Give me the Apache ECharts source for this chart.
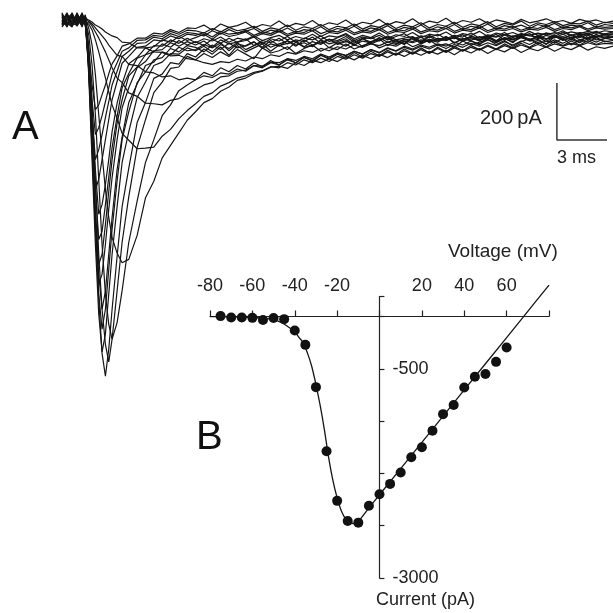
<!DOCTYPE html>
<html>
<head>
<meta charset="utf-8">
<script src="https://cdn.jsdelivr.net/npm/echarts/dist/echarts.min.js"></script>
<style>
  html, body { margin: 0; padding: 0; background: #fff; }
  #chart { width: 613px; height: 613px; }
</style>
</head>
<body>
<div id="chart"></div>
<script>
// ---- panel A: current traces (time in ms, current in pA) ----
const timeMs = [0, 0.3, 0.6, 0.9, 1.2, 1.4,
  1.6, 1.8, 2.0, 2.2, 2.4, 2.6, 2.8, 3.0,
  3.3, 3.6, 4.0, 4.5, 5.0, 5.5, 6.0, 6.5, 7.0, 7.5,
  8, 8.5, 9, 9.5, 10, 10.5, 11, 11.5, 12, 12.5, 13, 13.5, 14, 14.5, 15, 15.5, 16, 16.5, 17, 17.5,
  18, 18.5, 19, 19.5, 20, 20.5, 21, 21.5, 22, 22.5, 23, 23.5, 24, 24.5, 25, 25.5, 26, 26.5, 27, 27.5,
  28, 28.5, 29, 29.5, 30, 30.5, 31, 31.5, 32, 32.5, 33]

const traceF1 = [10, -20, 25, -15, 5, -10,
  -140, -400, -700, -980, -1170, -1250, -1155, -1015,
  -830, -655, -520, -360, -290, -205, -190, -150, -155, -118,
  -130, -102, -120, -95, -124, -90, -112, -98, -84, -110,
  -88, -104, -78, -96, -90, -72, -98, -80, -92, -70,
  -94, -76, -66, -90, -74, -86, -62, -84, -70, -78,
  -58, -82, -66, -74, -88, -60, -76, -64, -80, -56,
  -74, -68, -86, -58, -72, -62, -78, -54, -70, -66, -60]
const traceF2 = [-15, 20, -5, 18, -22, 8,
  -88, -298, -560, -822, -1015, -1138, -1200, -1120,
  -950, -780, -620, -448, -350, -255, -218, -170, -165, -128,
  -140, -118, -132, -112, -128, -104, -120, -136, -98, -116,
  -108, -94, -118, -100, -88, -110, -96, -104, -84, -102,
  -90, -80, -98, -86, -92, -76, -94, -82, -70, -90,
  -84, -96, -74, -88, -78, -68, -86, -72, -92, -76,
  -66, -84, -74, -80, -64, -88, -70, -78, -62, -76, -72]
const traceF3 = [22, -10, -25, 12, -8, 15,
  -192, -490, -788, -1032, -1165, -1102, -962, -822,
  -655, -500, -392, -272, -218, -160, -148, -118, -120, -98,
  -108, -92, -112, -86, -100, -80, -104, -90, -78, -96,
  -84, -74, -92, -70, -88, -80, -68, -86, -76, -82,
  -64, -84, -72, -60, -78, -70, -66, -80, -58, -74,
  -68, -62, -76, -56, -70, -64, -74, -52, -68, -60,
  -72, -58, -66, -54, -70, -62, -56, -68, -50, -64, -58]
const traceF4 = [-5, 25, -18, -2, 20, -12,
  -175, -455, -735, -962, -1085, -1015, -875, -735,
  -565, -420, -322, -220, -182, -140, -132, -100, -112, -90,
  -96, -112, -88, -104, -82, -98, -90, -76, -100, -84,
  -92, -72, -88, -80, -94, -70, -84, -76, -66, -88,
  -74, -80, -62, -78, -70, -84, -60, -76, -68, -72,
  -58, -80, -66, -62, -74, -56, -72, -64, -70, -54,
  -68, -60, -76, -58, -66, -52, -70, -62, -56, -64, -60]
const traceF5 = [18, -22, 10, -20, 14, -4,
  -158, -420, -682, -892, -1015, -952, -822, -693,
  -525, -410, -290, -225, -160, -148, -112, -122, -96, -108,
  -104, -86, -98, -80, -108, -84, -92, -78, -96, -72,
  -90, -82, -74, -94, -76, -86, -68, -82, -72, -90,
  -66, -78, -70, -62, -84, -68, -76, -60, -80, -64,
  -72, -58, -74, -66, -70, -56, -78, -62, -68, -60,
  -72, -54, -66, -62, -58, -70, -52, -66, -60, -56, -62]
const traceF6 = [-20, 5, 22, -12, -6, 18,
  -175, -438, -718, -928, -892, -788, -665, -553,
  -420, -308, -238, -168, -146, -108, -104, -80, -92, -76,
  -88, -74, -96, -70, -84, -78, -66, -90, -72, -80,
  -64, -84, -70, -76, -60, -82, -68, -72, -58, -78,
  -66, -62, -74, -56, -70, -64, -58, -76, -54, -68,
  -62, -66, -52, -72, -58, -64, -50, -70, -56, -60,
  -48, -66, -54, -62, -50, -64, -56, -46, -60, -52, -58]
const traceF7 = [8, 15, -20, 25, -15, 2,
  -158, -402, -665, -858, -822, -718, -602, -490,
  -362, -280, -196, -165, -122, -112, -84, -96, -72, -88,
  -76, -90, -68, -82, -64, -78, -72, -60, -84, -66,
  -74, -58, -78, -64, -70, -56, -76, -62, -52, -72,
  -60, -66, -54, -70, -58, -48, -68, -56, -62, -50,
  -66, -54, -60, -46, -64, -52, -58, -44, -62, -50,
  -56, -60, -46, -58, -42, -56, -50, -54, -44, -52, -48]
const traceF8 = [-25, 0, 18, -8, 22, -18,
  -140, -368, -595, -770, -742, -648, -553, -448,
  -338, -238, -188, -134, -122, -90, -92, -70, -82, -64,
  -80, -66, -74, -60, -78, -64, -70, -56, -72, -62,
  -54, -70, -58, -66, -50, -68, -56, -60, -48, -66,
  -54, -62, -46, -64, -52, -58, -44, -62, -50, -56,
  -42, -60, -48, -54, -40, -58, -46, -52, -44, -56,
  -40, -54, -46, -50, -38, -54, -44, -48, -40, -50, -42]
const traceF9 = [12, -14, -6, 20, -25, 10,
  -122, -332, -525, -682, -648, -578, -490, -392,
  -292, -224, -154, -132, -98, -94, -70, -78, -58, -72,
  -62, -50, -68, -46, -58, -52, -42, -60, -48, -54,
  -40, -56, -46, -50, -38, -58, -44, -48, -36, -52,
  -42, -46, -34, -50, -40, -44, -32, -48, -38, -42,
  -30, -46, -36, -40, -28, -44, -34, -38, -30, -42,
  -32, -36, -26, -40, -30, -34, -24, -38, -28, -32, -30]
const traceF10 = [-8, 22, -15, 5, 12, -20,
  -158, -385, -595, -560, -490, -420, -350, -280,
  -216, -152, -128, -96, -92, -70, -74, -56, -66, -50,
  -54, -44, -60, -40, -50, -46, -36, -54, -42, -48,
  -34, -50, -40, -44, -30, -48, -38, -42, -28, -46,
  -36, -40, -26, -44, -34, -38, -24, -42, -32, -36,
  -22, -40, -30, -34, -20, -38, -28, -32, -22, -36,
  -26, -30, -18, -34, -24, -28, -20, -32, -22, -26, -24]
const traceF11 = [20, -5, 12, -22, 8, -2,
  -140, -332, -490, -455, -402, -343, -287, -228,
  -180, -128, -110, -82, -80, -60, -66, -48, -58, -44,
  -48, -56, -38, -50, -34, -46, -40, -30, -48, -36,
  -42, -28, -44, -34, -38, -24, -42, -30, -36, -22,
  -40, -28, -34, -20, -38, -26, -32, -18, -36, -24,
  -30, -16, -34, -22, -28, -14, -32, -20, -26, -18,
  -30, -16, -24, -12, -28, -18, -22, -10, -26, -16, -20]
const traceF12 = [-12, 18, -22, 10, -4, 14,
  -122, -280, -402, -378, -336, -287, -238, -189,
  -150, -110, -98, -72, -70, -54, -58, -40, -50, -36,
  -38, -46, -30, -42, -26, -38, -32, -22, -40, -28,
  -34, -18, -36, -24, -30, -16, -34, -22, -28, -14,
  -32, -20, -26, -12, -30, -18, -24, -10, -28, -16,
  -22, -8, -26, -14, -20, -6, -24, -12, -18, -4,
  -22, -10, -16, -6, -20, -12, -14, -4, -18, -8, -12]
const traceF13 = [5, -25, 15, -10, 18, -8,
  -105, -228, -315, -298, -262, -228, -189, -154,
  -126, -92, -84, -64, -64, -46, -50, -34, -44, -28,
  -30, -18, -36, -14, -26, -20, -8, -28, -16, -22,
  -4, -24, -12, -18, -2, -22, -10, -16, 0, -20,
  -8, -14, 2, -18, -6, -12, 4, -16, -4, -10,
  6, -14, -2, -8, 4, -12, 0, -6, -14, 2,
  -10, -4, 4, -8, -2, -12, 2, -6, 0, -10, -4]
const traceS1 = [-18, 10, 5, -15, 25, -5,
  -52, -158, -332, -560, -788, -962, -1068, -1120,
  -1062, -950, -780, -636, -500, -420, -336, -298, -248, -228,
  -210, -184, -196, -168, -182, -160, -172, -150, -164, -142,
  -158, -136, -150, -130, -146, -124, -138, -120, -134, -114,
  -130, -110, -126, -106, -122, -102, -118, -98, -116, -96,
  -112, -92, -108, -90, -104, -88, -102, -84, -98, -82,
  -96, -78, -94, -76, -90, -74, -88, -72, -86, -74, -80]
const traceS2 = [15, -8, -20, 22, -12, 6,
  -28, -88, -192, -332, -472, -595, -693, -763,
  -818, -852, -840, -756, -624, -566, -484, -440, -396, -352,
  -322, -290, -276, -250, -235, -212, -204, -188, -180, -166,
  -162, -170, -150, -160, -142, -150, -136, -146, -128, -140,
  -124, -136, -120, -132, -116, -128, -112, -124, -110, -120,
  -106, -122, -104, -116, -100, -118, -102, -112, -96, -114,
  -100, -108, -94, -110, -96, -104, -90, -106, -94, -100, -92]
const traceS3 = [-2, 20, -12, -18, 10, -14,
  -14, -35, -70, -112, -158, -203, -252, -298,
  -345, -398, -422, -452, -450, -446, -408, -384, -346, -318,
  -294, -268, -256, -232, -220, -204, -196, -184, -178, -164,
  -168, -150, -158, -140, -150, -134, -146, -128, -138, -122,
  -134, -118, -128, -112, -124, -108, -120, -104, -118, -100,
  -114, -98, -110, -96, -106, -92, -104, -90, -100, -88,
  -98, -86, -96, -84, -92, -82, -90, -80, -88, -82, -84]
const traceS4 = [25, -15, 8, 2, -20, 12,
  -7, -21, -42, -63, -88, -112, -140, -168,
  -204, -220, -256, -268, -292, -294, -298, -282, -276, -258,
  -245, -228, -220, -200, -196, -180, -176, -160, -162, -148,
  -150, -136, -142, -128, -136, -120, -130, -116, -124, -110,
  -120, -104, -116, -100, -110, -96, -106, -92, -102, -88,
  -100, -86, -96, -82, -92, -80, -90, -76, -88, -74,
  -86, -72, -84, -70, -82, -68, -80, -66, -78, -64, -70]
const traceS5 = [-10, -18, 20, -5, 15, -22,
  -4, -14, -28, -42, -56, -70, -88, -102,
  -124, -128, -156, -160, -182, -186, -200, -196, -210, -204,
  -210, -196, -202, -186, -190, -172, -180, -160, -168, -150,
  -158, -140, -150, -132, -142, -124, -134, -116, -126, -110,
  -120, -104, -114, -98, -108, -92, -102, -88, -96, -84,
  -92, -78, -88, -74, -84, -70, -80, -66, -76, -62,
  -72, -60, -68, -56, -64, -54, -62, -50, -58, -48, -52]
const traceS6 = [6, 12, -14, 18, -10, 4,
  0, -7, -18, -24, -32, -42, -49, -56,
  -62, -78, -80, -98, -98, -112, -114, -126, -124, -136,
  -140, -150, -156, -146, -150, -138, -144, -130, -136, -122,
  -128, -114, -120, -108, -114, -100, -108, -94, -102, -88,
  -96, -84, -90, -78, -86, -74, -80, -70, -76, -66,
  -72, -62, -68, -58, -64, -56, -60, -52, -58, -48,
  -54, -46, -52, -44, -50, -42, -48, -40, -46, -38, -42]

const tracesA = [traceF1, traceF2, traceF3, traceF4, traceF5, traceF6, traceF7, traceF8, traceF9, traceF10,
  traceF11, traceF12, traceF13, traceS1, traceS2, traceS3, traceS4, traceS5, traceS6]

// scale bar: 3 ms x 200 pA
const scaleBar = [[29.64, -221], [29.64, -421], [32.64, -421]]

// ---- panel B: I-V relation ----
const voltage = [-75, -70, -65, -60, -55, -50, -45, -40, -35, -30, -25, -20, -15, -10, -5, 0, 5, 10, 15, 20, 25, 30, 35, 40, 45, 50, 55, 60]
const current = [5, -10, -10, -15, -40, -17, -30, -160, -325, -810, -1545, -2115, -2345, -2365, -2170, -2040, -1920, -1790, -1615, -1500,
  -1310, -1120, -1015, -815, -690, -660, -520, -355]

const fitVoltage = [-80, -75, -70, -65, -60, -55, -50, -47, -45, -43, -40, -38, -36, -34, -32, -30, -28, -26, -24, -22, -20, -18, -16, -14, -12, -10, -5, 0, 20, 40, 60, 68, 80]
const fitCurrent = [0, 0, -2, -5, -10, -18, -35, -60, -85, -120, -175, -240, -300, -420, -570, -780, -1020, -1300, -1620, -1880, -2080, -2230, -2320, -2365, -2375, -2350, -2195, -2045, -1444, -842, -241, 0, 361]

const xTickLabels = { '-80': '-80', '-60': '-60', '-40': '-40', '-20': '-20', '20': '20', '40': '40', '60': '60' }
const yTickLabels = { '-600': '-500', '-3000': '-3000' }

const font = 'Liberation Sans, Arial, sans-serif'
const ink = '#151515'

const chart = echarts.init(document.getElementById('chart'), null, { renderer: 'canvas' })

const traceSeries = tracesA.map((tr) => ({
  type: 'line',
  xAxisIndex: 0,
  yAxisIndex: 0,
  symbol: 'none',
  lineStyle: { color: ink, width: 1.2 },
  data: timeMs.map((t, i) => [t, tr[i]]),
}))

const option = {
  animation: false,
  backgroundColor: '#fff',
  grid: [
    { left: 62, top: 0, width: 551, height: 399 },
    { left: 210, top: 296.5, width: 339, height: 281.5 },
  ],
  xAxis: [
    { type: 'value', gridIndex: 0, min: 0, max: 33, show: false },
    {
      type: 'value',
      gridIndex: 1,
      min: -80,
      max: 80,
      interval: 20,
      position: 'top',
      offset: -20,
      axisLine: { onZero: false, lineStyle: { color: '#222', width: 1.2 } },
      axisTick: { show: true, length: 6, lineStyle: { color: '#222', width: 1.2 } },
      splitLine: { show: false },
      axisLabel: {
        margin: 21,
        color: '#222',
        fontSize: 18,
        fontFamily: font,
        formatter: (v) => xTickLabels[String(v)] || '',
      },
    },
  ],
  yAxis: [
    { type: 'value', gridIndex: 0, min: -1330, max: 70, show: false },
    {
      type: 'value',
      gridIndex: 1,
      min: -3000,
      max: 230,
      interval: 600,
      position: 'right',
      offset: -169.6,
      axisLine: { show: true, onZero: false, lineStyle: { color: '#222', width: 1.2 } },
      axisTick: { show: true, length: 5, lineStyle: { color: '#222', width: 1.2 } },
      splitLine: { show: false },
      axisLabel: {
        margin: 13,
        color: '#222',
        fontSize: 18,
        fontFamily: font,
        formatter: (v) => yTickLabels[String(v)] || '',
      },
    },
  ],
  series: [
    ...traceSeries,
    {
      type: 'line',
      xAxisIndex: 0,
      yAxisIndex: 0,
      symbol: 'none',
      lineStyle: { color: '#333', width: 1.5 },
      data: scaleBar,
    },
    {
      type: 'line',
      xAxisIndex: 1,
      yAxisIndex: 1,
      symbol: 'none',
      smooth: 0.3,
      clip: false,
      lineStyle: { color: ink, width: 1.3 },
      data: fitVoltage.map((v, i) => [v, fitCurrent[i]]),
    },
    {
      type: 'scatter',
      xAxisIndex: 1,
      yAxisIndex: 1,
      symbolSize: 10,
      itemStyle: { color: '#111', opacity: 1 },
      data: voltage.map((v, i) => [v, current[i]]),
    },
  ],
  graphic: [
    { type: 'text', left: 12, top: 108, style: { text: 'A', fontSize: 40, fontFamily: font, fill: '#111' } },
    { type: 'text', left: 196, top: 418, style: { text: 'B', fontSize: 40, fontFamily: font, fill: '#111' } },
    { type: 'text', left: 480, top: 108, style: { text: '200\u2009pA', fontSize: 20, fontFamily: font, fill: '#222' } },
    { type: 'text', left: 557, top: 149, style: { text: '3 ms', fontSize: 18, fontFamily: font, fill: '#222' } },
    { type: 'text', left: 448, top: 242, style: { text: 'Voltage (mV)', fontSize: 19, fontFamily: font, fill: '#222' } },
    { type: 'text', left: 376, top: 591, style: { text: 'Current (pA)', fontSize: 18, fontFamily: font, fill: '#222' } },
  ],
}

chart.setOption(option)
</script>
</body>
</html>
